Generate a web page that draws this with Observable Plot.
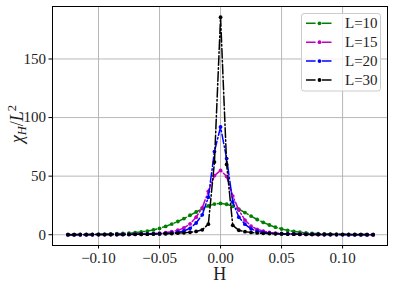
<!DOCTYPE html>
<html>
<head>
<meta charset="utf-8">
<script src="https://cdn.jsdelivr.net/npm/d3@7"></script>
<script src="https://cdn.jsdelivr.net/npm/@observablehq/plot@0.6"></script>
<style>
  html, body { margin: 0; padding: 0; background: #fff; }
  #chart svg { display: block; }
</style>
</head>
<body>
<div id="chart"></div>
<script>
const H = [-0.125,-0.12,-0.115,-0.11,-0.105,-0.1,-0.095,-0.09,-0.085,-0.08,-0.075,-0.07,-0.065,-0.06,-0.055,-0.05,-0.045,-0.04,-0.035,-0.03,-0.025,-0.02,-0.015,-0.01,-0.005,0,
  0.005,0.01,0.015,0.02,0.025,0.03,0.035,0.04,0.045,0.05,0.055,0.06,0.065,0.07,0.075,0.08,0.085,0.09,0.095,0.1,0.105,0.11,0.115,0.12,0.125];

const L10 = [0.12,0.15,0.19,0.24,0.3,0.4,0.5,0.65,0.85,1.1,1.4,1.8,2.4,3.1,4.1,5.4,7.1,9.1,11.3,13.8,16.6,19.4,22.2,24.6,26.2,26.7,
  26.0,24.3,21.8,18.9,15.9,13.0,10.5,8.3,6.4,4.9,3.7,2.8,2.1,1.6,1.2,0.9,0.7,0.55,0.42,0.33,0.26,0.2,0.16,0.13,0.1];
const L15 = [0.05,0.06,0.07,0.08,0.1,0.12,0.15,0.19,0.23,0.29,0.36,0.45,0.58,0.75,1.0,1.3,1.8,2.6,3.8,5.8,9.2,15,23,37,50.5,54.9,
  49.7,33,21,12.5,7.3,4.6,3.0,2.0,1.4,1.05,0.8,0.6,0.47,0.37,0.3,0.24,0.19,0.15,0.12,0.1,0.08,0.07,0.06,0.05,0.04];
const L20 = [0.04,0.05,0.06,0.07,0.08,0.1,0.12,0.14,0.17,0.21,0.26,0.32,0.4,0.5,0.65,0.85,1.1,1.5,2.1,3.2,5.5,10,17,32,71,92,
  65,28,15,9,5,3,2,1.4,1.0,0.8,0.6,0.47,0.37,0.3,0.24,0.19,0.15,0.13,0.11,0.09,0.07,0.06,0.05,0.04,0.03];
const L30 = [0.07,0.08,0.09,0.1,0.12,0.14,0.16,0.18,0.21,0.25,0.29,0.34,0.4,0.48,0.58,0.7,0.85,1.05,1.3,1.6,2.1,2.8,4.2,9,62,185.7,
  60,8,3.8,2.6,2.0,1.5,1.2,1.0,0.8,0.66,0.55,0.46,0.38,0.32,0.27,0.23,0.2,0.17,0.15,0.13,0.11,0.1,0.09,0.08,0.07];

const seriesNames = ["L=10", "L=15", "L=20", "L=30"];
const seriesColors = ["#008000", "#bf00bf", "#0000ff", "#000000"];
const seriesValues = [L10, L15, L20, L30];

const xTicks = [-0.10, -0.05, 0.00, 0.05, 0.10];
const yTicks = [0, 50, 100, 150];

const dash = "9.6,2.4,1.5,2.4";
const font = "'Liberation Serif', 'DejaVu Serif', serif";

const seriesMarks = seriesValues.flatMap((vals, i) => {
  const data = H.map((h, j) => ({h, v: vals[j]}));
  return [
    Plot.line(data, {x: "h", y: "v", stroke: seriesColors[i], strokeWidth: 1.5, strokeDasharray: dash}),
    Plot.dot(data, {x: "h", y: "v", fill: seriesColors[i], r: 1.9, stroke: "none"})
  ];
});

const fmt = d => (d < 0 ? "\u2212" : "") + Math.abs(d).toFixed(2);

const chart = Plot.plot({
  width: 394,
  height: 291,
  marginLeft: 52,
  marginRight: 7,
  marginTop: 6,
  marginBottom: 46,
  style: {fontFamily: font, fontSize: "15px", background: "white", color: "#222"},
  x: {domain: [-0.1377, 0.1368]},
  y: {domain: [-9.2, 194.8]},
  marks: [
    Plot.gridX(xTicks, {stroke: "#b0b0b0", strokeOpacity: 1, strokeWidth: 0.9}),
    Plot.gridY(yTicks, {stroke: "#b0b0b0", strokeOpacity: 1, strokeWidth: 0.9}),
    ...seriesMarks,
    Plot.axisX({ticks: xTicks, tickFormat: fmt, tickSize: 3.5, tickPadding: 3, label: null, stroke: "black", fill: "#222"}),
    Plot.axisY({ticks: yTicks, tickFormat: d => String(d), tickSize: 3.5, tickPadding: 3, label: null, stroke: "black", fill: "#222"}),
    Plot.frame({stroke: "black", strokeWidth: 1})
  ]
});

document.getElementById("chart").appendChild(chart);

const svg = d3.select(chart);
// x label
svg.append("text")
  .attr("x", 219.7).attr("y", 280)
  .attr("text-anchor", "middle")
  .attr("font-family", font).attr("font-size", 18).attr("fill", "#222")
  .text("H");

// y label: χ_H / L^2
const yl = svg.append("text")
  .attr("transform", "translate(23,124) rotate(-90)")
  .attr("text-anchor", "middle")
  .attr("font-family", font).attr("font-size", 18).attr("fill", "#222");
yl.append("tspan").attr("font-style", "italic").text("χ");
yl.append("tspan").attr("font-style", "italic").attr("font-size", 12.5).attr("dy", 3).text("H");
yl.append("tspan").attr("dy", -3).text("/");
yl.append("tspan").attr("font-style", "italic").text("L");
yl.append("tspan").attr("font-size", 12.5).attr("dy", -7).text("2");

// legend
const lg = svg.append("g");
lg.append("rect")
  .attr("x", 301.5).attr("y", 13.5).attr("width", 79).attr("height", 77.5)
  .attr("rx", 2.5).attr("fill", "white").attr("fill-opacity", 0.8)
  .attr("stroke", "#cccccc").attr("stroke-width", 1);
seriesNames.forEach((name, i) => {
  const yy = 23.3 + i * 18.9;
  lg.append("line").attr("x1", 306).attr("x2", 333).attr("y1", yy).attr("y2", yy)
    .attr("stroke", seriesColors[i]).attr("stroke-width", 1.5).attr("stroke-dasharray", dash);
  lg.append("circle").attr("cx", 319.5).attr("cy", yy).attr("r", 1.9).attr("fill", seriesColors[i]);
  lg.append("text").attr("x", 345).attr("y", yy + 5)
    .attr("text-anchor", "start")
    .attr("font-family", font).attr("font-size", 15).attr("fill", "#222")
    .text(name);
});
</script>
</body>
</html>
